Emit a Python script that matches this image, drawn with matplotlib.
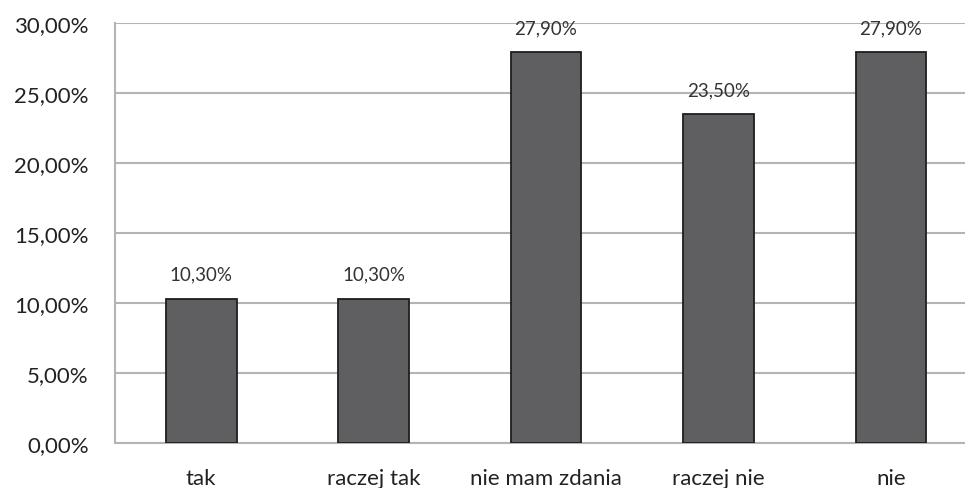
import matplotlib; matplotlib.use('Agg'); import matplotlib.pyplot as plt
from matplotlib.ticker import FuncFormatter

categories = ['tak', 'raczej tak', 'nie mam zdania', 'raczej nie', 'nie']
values = [10.30, 10.30, 27.90, 23.50, 27.90]
yticks = [0, 5, 10, 15, 20, 25, 30]

plt.rcParams['font.family'] = ['Lato', 'DejaVu Sans']

fig = plt.figure(figsize=(9.65, 4.89), dpi=100)
ax = fig.add_axes([115/965, 1 - 444/489, (965 - 115)/965, (444 - 24)/489])

x = range(len(categories))
ax.bar(x, values, width=0.41, color='#5f5f61', edgecolor='#1e1e1e', linewidth=1.3, zorder=3)
for xi, v in zip(x, values):
    ax.text(xi, v + 1.15, f'{v:.2f}%'.replace('.', ','), ha='center', va='bottom',
            fontsize=13.5, color='#333333')

ax.set_xlim(-0.5, 4.43)
ax.set_ylim(0, 30)
ax.set_yticks(yticks)
ax.yaxis.set_major_formatter(FuncFormatter(lambda v, p: f'{v:.2f}%'.replace('.', ',')))
ax.set_xticks(list(x))
ax.set_xticklabels(categories)
ax.tick_params(axis='both', length=0, labelsize=16, colors='#222222')
ax.tick_params(axis='x', pad=18)
ax.tick_params(axis='y', pad=19)
ax.grid(axis='y', color='#b4b4b4', linewidth=1.5, zorder=0)
for s in ['top', 'right']:
    ax.spines[s].set_visible(False)
for s in ['left', 'bottom']:
    ax.spines[s].set_color('#b4b4b4')
    ax.spines[s].set_linewidth(1.5)

fig.savefig('out.png', dpi=100)
